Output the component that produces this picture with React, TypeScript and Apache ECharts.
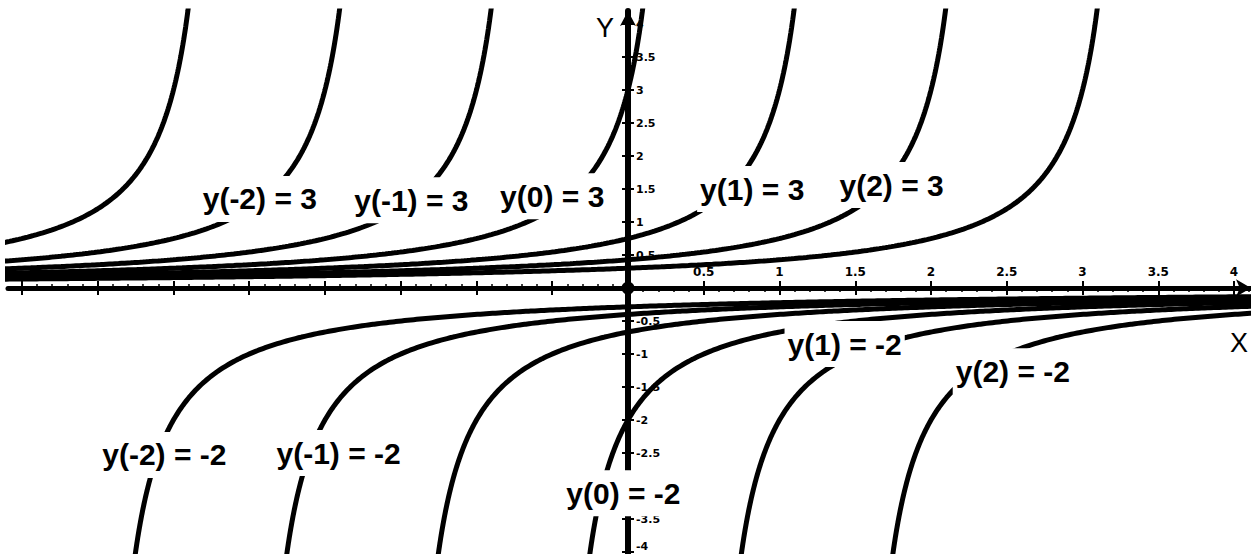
import { useEffect, useRef } from "react";
import * as echarts from "echarts";

// Solution curves of dy/dx = y^2 through the initial points y(x0) = y0.
const upperStarts = [-3, -2, -1, 0, 1, 2, 3];
const upperValue = 3;
const lowerStarts = [-3, -2, -1, 0, 1, 2];
const lowerValue = -2;

// Axis window
const X_MIN = -4.092;
const X_MAX = 4.112;
const Y_MIN = -4.03;
const Y_MAX = 4.197;

const xTicks = [-4, -3.5, -3, -2.5, -2, -1.5, -1, -0.5, 0, 0.5, 1, 1.5, 2, 2.5, 3, 3.5, 4];
const xTickLabels = [0.5, 1, 1.5, 2, 2.5, 3, 3.5, 4];
const yTicks = [-4, -3.5, -3, -2.5, -2, -1.5, -1, -0.5, 0, 0.5, 1, 1.5, 2, 2.5, 3, 3.5, 4];
// -3 sits under the "y(0) = -2" annotation and is left out
const yTickLabels = [-4, -3.5, -2.5, -2, -1.5, -1, -0.5, 0.5, 1, 1.5, 2, 2.5, 3, 3.5, 4];

const curveLabels = [
  "y(-2) = 3",
  "y(-1) = 3",
  "y(0) = 3",
  "y(1) = 3",
  "y(2) = 3",
  "y(-2) = -2",
  "y(-1) = -2",
  "y(0) = -2",
  "y(1) = -2",
  "y(2) = -2",
];
// Where each annotation sits, in axis units
const curveLabelAnchors = [
  [-2.43, 1.35],
  [-1.43, 1.33],
  [-0.5, 1.39],
  [0.82, 1.5],
  [1.74, 1.56],
  [-3.06, -2.53],
  [-1.91, -2.5],
  [-0.03, -3.11],
  [1.43, -0.85],
  [2.54, -1.26],
];

// Minor x ticks every 0.1: pointing up left of the origin, down to the right
const minorTicksLeft: number[] = [];
const minorTicksRight: number[] = [];
for (let i = -40; i <= 41; i++) {
  if (i % 5 === 0) continue;
  (i < 0 ? minorTicksLeft : minorTicksRight).push(i / 10);
}

// Plot area inside the 1251 x 554 canvas
const W = 1251;
const H = 554;
const GRID = { left: 8, top: 11, right: 0, bottom: 0 };

// Axis offsets that bring both axes through the origin
const gridW = W - GRID.left - GRID.right;
const gridH = H - GRID.top - GRID.bottom;
const originX = GRID.left + ((0 - X_MIN) / (X_MAX - X_MIN)) * gridW;
const originY = GRID.top + ((Y_MAX - 0) / (Y_MAX - Y_MIN)) * gridH;
const xAxisOffset = -(H - GRID.bottom - originY);
const yAxisOffset = -(originX - GRID.left);

// Branch of y = y0 / (1 - y0 (x - x0)) that contains the initial point,
// sampled finely in both x and y so the steep part stays smooth.
function solutionCurve(x0: number, y0: number): number[][] {
  const c = x0 + 1 / y0; // vertical asymptote
  const f = (x: number) => 1 / (c - x);
  const xs: number[] = [];
  const pad = 0.4;
  if (y0 > 0) {
    const xEnd = c - 1 / (Y_MAX + pad);
    for (let x = X_MIN - 0.05; x < xEnd; x += 0.02) xs.push(x);
    for (let y = Math.max(f(X_MIN - 0.05), 0.01); y < Y_MAX + pad; y += 0.04) xs.push(c - 1 / y);
    xs.push(xEnd);
  } else {
    const xStart = c + 1 / (Math.abs(Y_MIN) + pad);
    for (let x = xStart; x < X_MAX + 0.05; x += 0.02) xs.push(x);
    for (let y = Y_MIN - pad; y < f(X_MAX + 0.05); y += 0.04) xs.push(c - 1 / y);
    xs.push(xStart, X_MAX + 0.05);
  }
  return xs
    .filter((x) => x >= X_MIN - 0.06 && x <= X_MAX + 0.06)
    .sort((a, b) => a - b)
    .map((x) => [x, f(x)]);
}

const tickFont = {
  fontFamily: "DejaVu Sans",
  fontWeight: "bold" as const,
  color: "#000",
};

export default function App() {
  const ref = useRef<HTMLDivElement>(null);

  useEffect(() => {
    if (!ref.current) return;
    const chart = echarts.init(ref.current, null, { renderer: "svg" });

    const curveSeries = [
      ...upperStarts.map((x0) => ({ x0, y0: upperValue })),
      ...lowerStarts.map((x0) => ({ x0, y0: lowerValue })),
    ].map(({ x0, y0 }) => ({
      type: "line",
      name: `y(${x0}) = ${y0}`,
      data: solutionCurve(x0, y0),
      showSymbol: false,
      symbol: "none",
      clip: true,
      silent: true,
      z: 3,
      lineStyle: { color: "#000", width: 5, cap: "round" },
    }));

    const baseX = {
      type: "value",
      min: X_MIN,
      max: X_MAX,
      position: "bottom",
      offset: xAxisOffset,
      splitLine: { show: false },
    };
    const baseY = {
      type: "value",
      min: Y_MIN,
      max: Y_MAX,
      position: "left",
      offset: yAxisOffset,
      splitLine: { show: false },
    };
    const tickOnly = (values: number[], inside: boolean, length: number, width: number) => ({
      ...baseX,
      axisLine: { show: false, onZero: false },
      axisTick: {
        customValues: values,
        inside,
        length,
        lineStyle: { color: "#000", width },
      },
      axisLabel: { show: false },
    });

    chart.setOption({
      animation: false,
      backgroundColor: "#fff",
      grid: {
        ...GRID,
        containLabel: false,
        outerBoundsMode: "none",
      },
      xAxis: [
        {
          ...baseX,
          axisLine: {
            onZero: false,
            symbol: ["none", "arrow"],
            symbolSize: [13, 15],
            lineStyle: { color: "#000", width: 5 },
          },
          axisTick: {
            customValues: xTicks,
            inside: false,
            length: 7,
            lineStyle: { color: "#000", width: 2 },
          },
          axisLabel: {
            customValues: xTickLabels,
            inside: true,
            margin: 10,
            fontSize: 12,
            ...tickFont,
          },
        },
        tickOnly(xTicks, true, 7, 2),
        tickOnly(minorTicksLeft, true, 4, 1.5),
        tickOnly(minorTicksRight, false, 4, 1.5),
      ],
      yAxis: [
        {
          ...baseY,
          axisLine: {
            onZero: false,
            symbol: ["none", "arrow"],
            symbolSize: [12, 15],
            lineStyle: { color: "#000", width: 6 },
          },
          axisTick: {
            customValues: yTicks,
            inside: false,
            length: 6,
            lineStyle: { color: "#000", width: 2 },
          },
          axisLabel: {
            customValues: yTickLabels,
            inside: true,
            margin: 8,
            fontSize: 11,
            verticalAlignMinLabel: "bottom",
            ...tickFont,
          },
        },
        {
          ...baseY,
          axisLine: { show: false, onZero: false },
          axisTick: {
            customValues: yTicks,
            inside: true,
            length: 6,
            lineStyle: { color: "#000", width: 2 },
          },
          axisLabel: { show: false },
        },
      ],
      graphic: [
        {
          type: "text",
          x: 605,
          y: 28,
          z: 20,
          style: {
            text: "Y",
            fontSize: 27,
            fontFamily: "Liberation Sans",
            fill: "#000",
            textAlign: "center",
            textVerticalAlign: "middle",
          },
        },
        {
          type: "text",
          x: 1239,
          y: 343,
          z: 20,
          style: {
            text: "X",
            fontSize: 27,
            fontFamily: "Liberation Sans",
            fill: "#000",
            textAlign: "center",
            textVerticalAlign: "middle",
          },
        },
      ],
      series: [
        ...curveSeries,
        {
          type: "scatter",
          name: "origin",
          data: [[0, 0]],
          symbolSize: 13,
          silent: true,
          z: 4,
          itemStyle: { color: "#000", opacity: 1 },
        },
        {
          type: "scatter",
          name: "labels",
          data: curveLabels.map((text, i) => ({ name: text, value: curveLabelAnchors[i] })),
          symbolSize: 0,
          silent: true,
          z: 10,
          itemStyle: { opacity: 1 },
          label: {
            show: true,
            position: "inside",
            formatter: "{b}",
            fontSize: 30,
            fontWeight: "bold",
            fontFamily: "Liberation Sans",
            color: "#000",
            opacity: 1,
            backgroundColor: "#fff",
            padding: [8, 3],
          },
        },
      ],
    });

    return () => chart.dispose();
  }, []);

  return (
    <div
      ref={ref}
      style={{ position: "absolute", left: 0, top: 0, width: W, height: H, background: "#fff" }}
    />
  );
}
